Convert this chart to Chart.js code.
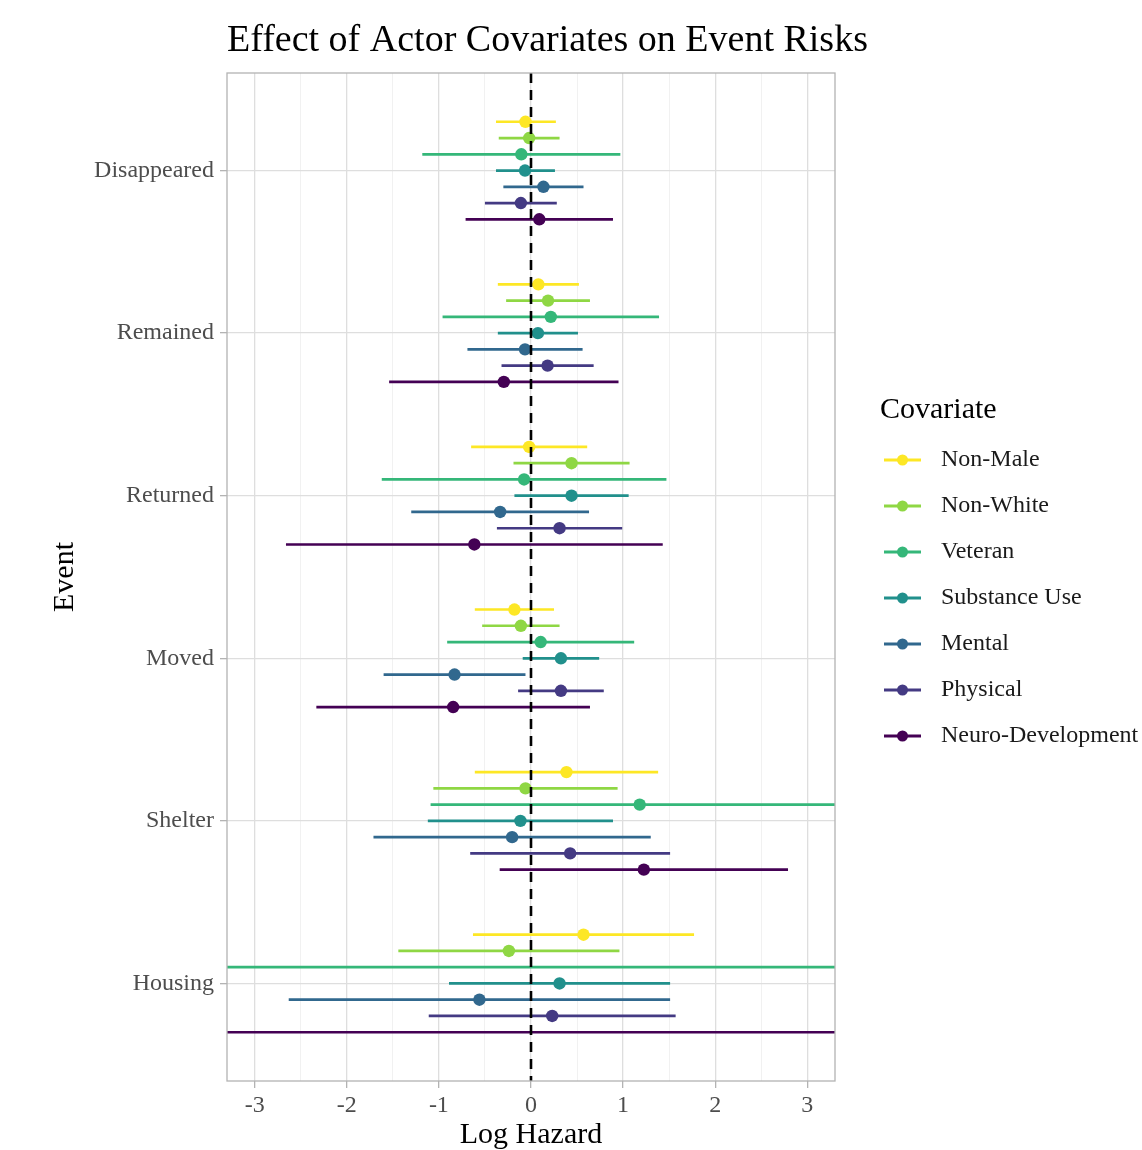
<!DOCTYPE html>
<html>
<head>
<meta charset="utf-8">
<title>Effect of Actor Covariates on Event Risks</title>
<script src="https://cdn.jsdelivr.net/npm/chart.js@4.4.1/dist/chart.umd.min.js"></script>
<style>
  html, body { margin: 0; padding: 0; background: #ffffff; }
  canvas { display: block; }
</style>
</head>
<body>
<canvas id="forest" width="1142" height="1150"></canvas>
<script>
// ---- data -------------------------------------------------------------
const events = ['Disappeared', 'Remained', 'Returned', 'Moved', 'Shelter', 'Housing'];
const covariates = ['Non-Male', 'Non-White', 'Veteran', 'Substance Use', 'Mental', 'Physical', 'Neuro-Development'];

// log-hazard estimates with lower / upper 95% bounds, one value per event
const nonMaleEst   = [-0.06, 0.08, -0.02, -0.18, 0.385, 0.57];
const nonMaleLo    = [-0.38, -0.36, -0.65, -0.61, -0.61, -0.63];
const nonMaleHi    = [0.27, 0.52, 0.61, 0.25, 1.38, 1.77];

const nonWhiteEst  = [-0.02, 0.185, 0.44, -0.11, -0.06, -0.24];
const nonWhiteLo   = [-0.35, -0.27, -0.19, -0.53, -1.06, -1.44];
const nonWhiteHi   = [0.31, 0.64, 1.07, 0.31, 0.94, 0.96];

const veteranEst   = [-0.105, 0.215, -0.075, 0.105, 1.18, -13.2];
const veteranLo    = [-1.18, -0.96, -1.62, -0.91, -1.09, -60];
const veteranHi    = [0.97, 1.39, 1.47, 1.12, 3.45, 34];

const substanceEst = [-0.065, 0.075, 0.44, 0.325, -0.115, 0.31];
const substanceLo  = [-0.38, -0.36, -0.18, -0.09, -1.12, -0.89];
const substanceHi  = [0.26, 0.51, 1.06, 0.74, 0.89, 1.51];

const mentalEst    = [0.135, -0.065, -0.335, -0.83, -0.205, -0.56];
const mentalLo     = [-0.30, -0.69, -1.30, -1.60, -1.71, -2.63];
const mentalHi     = [0.57, 0.56, 0.63, -0.06, 1.30, 1.51];

const physicalEst  = [-0.11, 0.18, 0.31, 0.325, 0.425, 0.23];
const physicalLo   = [-0.50, -0.32, -0.37, -0.14, -0.66, -1.11];
const physicalHi   = [0.28, 0.68, 0.99, 0.79, 1.51, 1.57];

const neuroEst     = [0.09, -0.295, -0.615, -0.845, 1.225, -14.6];
const neuroLo      = [-0.71, -1.54, -2.66, -2.33, -0.34, -62];
const neuroHi      = [0.89, 0.95, 1.43, 0.64, 2.79, 33];

// axis settings
const xTicks = [-3, -2.5, -2, -1.5, -1, -0.5, 0, 0.5, 1, 1.5, 2, 2.5, 3];
const xRange = [-3.3, 3.3];
const yRange = [0.4, 6.6];
const dodge = 0.1;

// ---- styling ----------------------------------------------------------
const palette = ['#FDE725', '#8FD744', '#35B779', '#21908C', '#31688E', '#443A83', '#440154'];
const serif = "'Liberation Serif', 'Times New Roman', serif";
Chart.defaults.font.family = serif;

const estimates = [nonMaleEst, nonWhiteEst, veteranEst, substanceEst, mentalEst, physicalEst, neuroEst];
const lowers    = [nonMaleLo, nonWhiteLo, veteranLo, substanceLo, mentalLo, physicalLo, neuroLo];
const uppers    = [nonMaleHi, nonWhiteHi, veteranHi, substanceHi, mentalHi, physicalHi, neuroHi];

const rowY = (k, i) => i + 1 + (k - (covariates.length - 1) / 2) * dodge;

const datasets = [];

// dashed reference line at zero
datasets.push({
  type: 'line',
  label: 'zero',
  data: [{ x: 0, y: yRange[0] }, { x: 0, y: yRange[1] }],
  borderColor: '#000000',
  borderWidth: 2.6,
  borderDash: [10, 7],
  pointRadius: 0,
  order: 0
});

// point estimates
covariates.forEach((name, k) => {
  datasets.push({
    type: 'scatter',
    label: name,
    data: events.map((e, i) => ({ x: estimates[k][i], y: rowY(k, i) })),
    backgroundColor: palette[k],
    borderWidth: 0,
    pointRadius: 6.2,
    order: 1
  });
});

// confidence intervals (one broken line per covariate)
covariates.forEach((name, k) => {
  const pts = [];
  events.forEach((e, i) => {
    pts.push({ x: lowers[k][i], y: rowY(k, i) });
    pts.push({ x: uppers[k][i], y: rowY(k, i) });
    pts.push({ x: NaN, y: NaN });
  });
  datasets.push({
    type: 'line',
    label: name + ' CI',
    data: pts,
    borderColor: palette[k],
    borderWidth: 2.7,
    pointRadius: 0,
    spanGaps: false,
    order: 2
  });
});

// ---- plugins ----------------------------------------------------------
const panelBorder = {
  id: 'panelBorder',
  afterDatasetsDraw(chart) {
    const { ctx, chartArea: a } = chart;
    ctx.save();
    ctx.strokeStyle = '#B3B3B3';
    ctx.lineWidth = 1.3;
    ctx.strokeRect(a.left, a.top, a.right - a.left, a.bottom - a.top);
    ctx.restore();
  }
};

// plot title, left-aligned with the panel
const panelTitle = {
  id: 'panelTitle',
  afterDraw(chart, args, opts) {
    const ctx = chart.ctx;
    ctx.save();
    ctx.textAlign = 'left';
    ctx.textBaseline = 'middle';
    ctx.fillStyle = '#000000';
    ctx.font = opts.size + 'px ' + serif;
    ctx.fillText(opts.text, chart.chartArea.left, opts.y);
    ctx.restore();
  }
};

const covariateLegend = {
  id: 'covariateLegend',
  afterDraw(chart, args, opts) {
    const ctx = chart.ctx;
    const items = chart.data.datasets.filter(d => d.type === 'scatter');
    ctx.save();
    ctx.textAlign = 'left';
    ctx.textBaseline = 'middle';
    ctx.fillStyle = '#000000';
    ctx.font = '30px ' + serif;
    ctx.fillText(opts.title, opts.x, opts.titleY);
    items.forEach((d, k) => {
      const y = opts.firstY + k * opts.step;
      ctx.strokeStyle = d.backgroundColor;
      ctx.lineWidth = 3;
      ctx.beginPath();
      ctx.moveTo(opts.x + 4, y);
      ctx.lineTo(opts.x + 41, y);
      ctx.stroke();
      ctx.fillStyle = d.backgroundColor;
      ctx.beginPath();
      ctx.arc(opts.x + 22.5, y, 5.5, 0, Math.PI * 2);
      ctx.fill();
      ctx.fillStyle = '#1A1A1A';
      ctx.font = '24px ' + serif;
      ctx.fillText(d.label, opts.x + 61, y);
    });
    ctx.restore();
  }
};

// ---- chart ------------------------------------------------------------
new Chart(document.getElementById('forest'), {
  type: 'scatter',
  data: { datasets },
  plugins: [panelBorder, panelTitle, covariateLegend],
  options: {
    responsive: false,
    devicePixelRatio: 1,
    animation: false,
    events: [],
    layout: { padding: { top: 73, right: 307, bottom: 0, left: 0 } },
    plugins: {
      legend: { display: false },
      tooltip: { enabled: false },
      title: { display: false },
      panelTitle: { text: 'Effect of Actor Covariates on Event Risks', size: 38, y: 41 },
      covariateLegend: { title: 'Covariate', x: 880, titleY: 410, firstY: 460, step: 46 }
    },
    scales: {
      x: {
        type: 'linear',
        min: xRange[0],
        max: xRange[1],
        afterBuildTicks: s => { s.ticks = xTicks.map(v => ({ value: v })); },
        afterFit: s => { s.height = 69; },
        ticks: {
          autoSkip: false,
          maxRotation: 0,
          padding: 3,
          color: '#4D4D4D',
          font: { size: 24 },
          callback: v => (Number.isInteger(v) ? String(v) : '')
        },
        grid: {
          color: c => (Number.isInteger(c.tick.value) ? '#DEDEDE' : '#EEEEEE'),
          lineWidth: c => (Number.isInteger(c.tick.value) ? 1.3 : 0.8),
          tickColor: c => (Number.isInteger(c.tick.value) ? '#B3B3B3' : 'rgba(0,0,0,0)'),
          tickLength: 7,
          tickWidth: 1.3
        },
        border: { display: false },
        title: {
          display: true,
          text: 'Log Hazard',
          color: '#000000',
          font: { size: 30 },
          padding: { top: 0, bottom: -3 }
        }
      },
      y: {
        type: 'linear',
        reverse: true,
        min: yRange[0],
        max: yRange[1],
        afterBuildTicks: s => { s.ticks = events.map((e, i) => ({ value: i + 1 })); },
        afterFit: s => { s.width = 227; },
        ticks: {
          padding: 6,
          color: '#4D4D4D',
          font: { size: 24 },
          callback: v => events[Math.round(v) - 1]
        },
        grid: {
          color: '#DEDEDE',
          lineWidth: 1.3,
          tickColor: '#B3B3B3',
          tickLength: 7,
          tickWidth: 1.3
        },
        border: { display: false },
        title: {
          display: true,
          text: 'Event',
          color: '#000000',
          font: { size: 30 },
          padding: { top: 47, bottom: 0 }
        }
      }
    }
  }
});
</script>
</body>
</html>
